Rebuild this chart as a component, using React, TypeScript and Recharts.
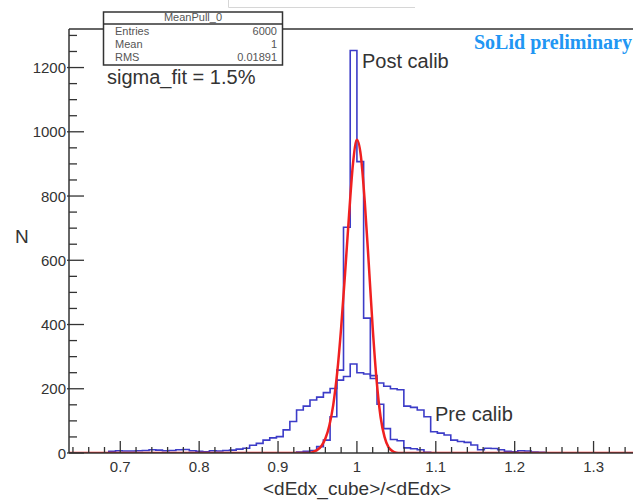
import React from "react";
import { LineChart, Line, XAxis, YAxis, ReferenceLine } from "recharts";

// histogram binning (same for both histograms)
const FIRST_EDGE = 0.6345;
const BIN_WIDTH = 0.0085;

// counts per bin
const PRE_COUNTS = [
  0, 0, 1, 0, 0, 1,
  5, 7, 6, 6, 7, 8, 10, 9, 7, 8, 10, 11, 7, 5, 4, 7, 6, 8, 9, 12, 15,
  24, 30, 40, 47, 51, 72, 98, 134, 146, 165, 174, 188, 201, 227, 238, 277,
  250, 246, 241, 218, 208, 200, 197, 146, 142, 134, 113, 66, 62, 56, 40, 36, 33, 25, 10, 15, 14, 10, 5, 4, 7, 6, 3, 2,
  0, 0, 0, 0, 0, 0, 0, 0, 0, 0, 0, 0, 0, 0,
];

const POST_COUNTS = [
  0, 0, 0, 0, 0, 0, 0, 0, 0, 0, 0, 0, 0, 0, 0, 0, 0, 0, 0, 0, 0, 0, 0, 0, 0, 0, 0, 0, 0, 0, 0, 0, 0,
  1, 3, 5, 8, 20, 40, 113, 258, 703, 1253, 907, 420, 232, 152, 76, 42, 38, 16, 13, 10, 2,
  0, 0, 0, 0, 0, 0, 0, 0, 0, 0, 0, 0, 0, 0, 0, 0, 0, 0, 0, 0, 0, 0, 0, 0, 0, 0, 0, 0, 0, 0, 0,
];

// gaussian fit curve
const FIT_X = [
  0.635, 0.94, 0.945, 0.95, 0.955, 0.96, 0.965, 0.97, 0.975, 0.98, 0.985, 0.99, 0.995,
  1.0, 1.005, 1.01, 1.015, 1.02, 1.025, 1.03, 1.035, 1.04, 1.045, 1.05, 1.055, 1.35,
];
const FIT_Y = [
  0, 0, 4, 10, 22, 45, 85, 150, 250, 390, 560, 740, 900,
  975, 925, 780, 590, 390, 225, 112, 50, 18, 6, 1, 0, 0,
];

const X_DOMAIN = [0.635, 1.35];
const Y_DOMAIN = [0, 1320];

const X_TICKS: number[] = [];
for (let k = 0; k <= 35; k++) X_TICKS.push(Math.round((0.64 + k * 0.02) * 100) / 100);
const Y_TICKS: number[] = [];
for (let k = 0; k <= 26; k++) Y_TICKS.push(k * 50);

const STATS = [
  ["Entries", "6000"],
  ["Mean", "1"],
  ["RMS", "0.01891"],
];

const FONT = "'Liberation Sans', Arial, Helvetica, sans-serif";
const AXIS = "#333";
const BLUE = "#3c3cc8";
const RED = "#f02020";

const histRows = PRE_COUNTS.map((_, i) => ({
  x: FIRST_EDGE + i * BIN_WIDTH,
  pre: PRE_COUNTS[i],
  post: POST_COUNTS[i],
}));
histRows.push({
  x: FIRST_EDGE + PRE_COUNTS.length * BIN_WIDTH,
  pre: PRE_COUNTS[PRE_COUNTS.length - 1],
  post: POST_COUNTS[POST_COUNTS.length - 1],
});
const fitRows = FIT_X.map((x, i) => ({ x, fit: FIT_Y[i] }));

const Y_GAP = 3;
const X_GAP = 0;

const YTick = (props: any) => {
  const { x, y, payload } = props;
  const v = payload.value;
  const major = v % 200 === 0;
  const ax = x + Y_GAP;
  return (
    <g>
      <line x1={ax - (major ? 2 : 0)} x2={ax + (major ? 15 : 8)} y1={y} y2={y} stroke={AXIS} strokeWidth={1.3} />
      {major && (
        <text x={x} y={y} textAnchor="end" dominantBaseline="central" fontFamily={FONT} fontSize={15} fill={AXIS}>
          {v}
        </text>
      )}
    </g>
  );
};

const XTick = (props: any) => {
  const { x, y, payload } = props;
  const v = payload.value;
  const major = Math.abs(v * 10 - Math.round(v * 10)) < 1e-6;
  const ay = y - X_GAP;
  return (
    <g>
      <line x1={x} x2={x} y1={ay} y2={ay - (major ? 12 : 6)} stroke={AXIS} strokeWidth={1.3} />
      {major && (
        <text x={x} y={ay + 19} textAnchor="middle" fontFamily={FONT} fontSize={15} fill={AXIS}>
          {String(Math.round(v * 10) / 10)}
        </text>
      )}
    </g>
  );
};

export default function App() {
  return (
    <div style={{ position: "absolute", left: 0, top: 0, width: 633, height: 501, overflow: "hidden", background: "#fff" }}>
      <LineChart width={633} height={501} margin={{ top: 29, right: 0, bottom: 0, left: 0 }}>
        <XAxis
          type="number"
          dataKey="x"
          domain={X_DOMAIN}
          allowDataOverflow
          ticks={X_TICKS}
          interval={0}
          tickSize={0}
          tickMargin={X_GAP}
          tick={<XTick />}
          height={48}
          axisLine={{ stroke: AXIS, strokeWidth: 1.5 }}
        />
        <YAxis
          type="number"
          domain={Y_DOMAIN}
          allowDataOverflow
          ticks={Y_TICKS}
          interval={0}
          tickSize={0}
          tickMargin={Y_GAP}
          tick={<YTick />}
          width={69}
          axisLine={{ stroke: AXIS, strokeWidth: 1.5 }}
        />
        <ReferenceLine y={Y_DOMAIN[1]} stroke={AXIS} strokeWidth={1.5} />
        <Line
          data={histRows}
          dataKey="pre"
          type="stepAfter"
          stroke={BLUE}
          strokeWidth={1.6}
          dot={false}
          activeDot={false}
          isAnimationActive={false}
        />
        <Line
          data={histRows}
          dataKey="post"
          type="stepAfter"
          stroke={BLUE}
          strokeWidth={1.6}
          dot={false}
          activeDot={false}
          isAnimationActive={false}
        />
        <Line
          data={fitRows}
          dataKey="fit"
          type="monotone"
          stroke={RED}
          strokeWidth={2.5}
          dot={false}
          activeDot={false}
          isAnimationActive={false}
        />
      </LineChart>

      {/* text drawn on top, like the ROOT canvas */}
      <svg width={633} height={501} style={{ position: "absolute", left: 0, top: 0, pointerEvents: "none" }}>
        <path d="M228.5 0 V7.5 H415" fill="none" stroke="#d6d6d6" strokeWidth={1} />
        <rect x={103.5} y={12} width={179} height={53} fill="#fff" stroke={AXIS} strokeWidth={1.5} />
        <line x1={103.5} x2={282.5} y1={24} y2={24} stroke={AXIS} strokeWidth={1.5} />
        <text x={193} y={20.5} textAnchor="middle" fontFamily={FONT} fontSize={11} fill="#555">
          MeanPull_0
        </text>
        {STATS.map(([k, v], i) => (
          <g key={k}>
            <text x={115} y={35 + i * 12.8} fontFamily={FONT} fontSize={11} fill="#555">
              {k}
            </text>
            <text x={277} y={35 + i * 12.8} textAnchor="end" fontFamily={FONT} fontSize={11} fill="#555">
              {v}
            </text>
          </g>
        ))}
        <text x={107} y={84} fontFamily={FONT} fontSize={20} fill={AXIS}>
          sigma_fit = 1.5%
        </text>
        <text x={362} y={68} fontFamily={FONT} fontSize={20} fill={AXIS}>
          Post calib
        </text>
        <text x={435} y={420.5} fontFamily={FONT} fontSize={20} fill={AXIS}>
          Pre calib
        </text>
        <text x={474} y={49} fontFamily="'Liberation Serif', 'Times New Roman', serif" fontWeight="bold" fontSize={20} fill="#2196f3">
          SoLid preliminary
        </text>
        <text x={15} y={243} fontFamily={FONT} fontSize={19} fill={AXIS}>
          N
        </text>
        <text x={357} y={495} textAnchor="middle" fontFamily={FONT} fontSize={19} fill={AXIS}>
          {"<dEdx_cube>/<dEdx>"}
        </text>
      </svg>
    </div>
  );
}
